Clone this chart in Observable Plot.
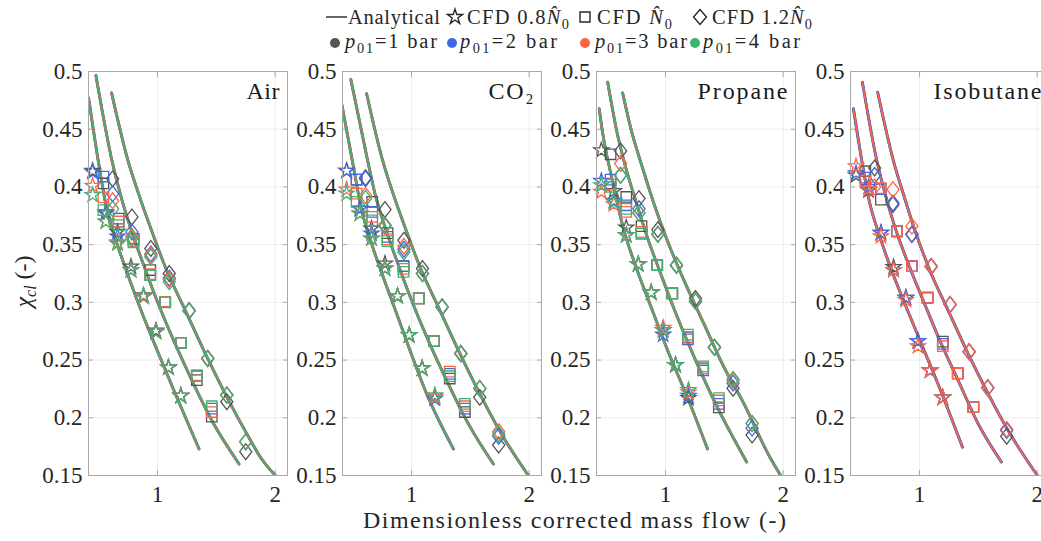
<!DOCTYPE html>
<html><head><meta charset="utf-8">
<script src="https://cdn.jsdelivr.net/npm/d3@7"></script>
<script src="https://cdn.jsdelivr.net/npm/@observablehq/plot@0.6"></script>
<style>
html,body{margin:0;padding:0;background:#fff;overflow:hidden;}
#wrap{position:relative;width:1041px;height:541px;overflow:hidden;background:#fff;font-family:"Liberation Serif","DejaVu Serif",serif;}
#wrap svg.panel{position:absolute;top:0;}
#overlay{position:absolute;left:0;top:0;pointer-events:none;}
#wrap text{font-family:"Liberation Serif","DejaVu Serif",serif;}
</style></head><body><div id="wrap"></div>
<script>
// ---------------- DATA ----------------
const gasNames = ["Air", "CO₂", "Propane", "Isobutane"];
const speedLabels = ["0.8", "1.0", "1.2"];
const pressureLabels = ["1 bar", "2 bar", "3 bar", "4 bar"];
const pressureColors = ["#555555", "#4169e1", "#ff6347", "#3cb371"];
const xTicks = [1, 2];
const yTicks = [0.15, 0.2, 0.25, 0.3, 0.35, 0.4, 0.45, 0.5];

// Analytical curves [x, y]
const airLine08 = [[0.414,0.477],[0.5,0.42],[0.57,0.38],[0.655,0.351],[0.754,0.322],[0.881,0.2875],[1.008,0.2557],[1.15,0.221],[1.353,0.173]];
const airLine10 = [[0.476,0.4965],[0.612,0.423],[0.683,0.394],[0.768,0.3654],[0.867,0.3365],[0.994,0.3019],[1.136,0.2673],[1.291,0.2327],[1.475,0.1952],[1.693,0.160]];
const airLine12 = [[0.609,0.4815],[0.748,0.423],[0.839,0.394],[0.938,0.3654],[1.065,0.3308],[1.235,0.2933],[1.419,0.2529],[1.603,0.2153],[1.773,0.1836],[1.872,0.1663],[2.02,0.148]];
const co2Line08 = [[0.406,0.472],[0.496,0.423],[0.576,0.3798],[0.660,0.351],[0.759,0.322],[0.873,0.2904],[0.986,0.2586],[1.127,0.2211],[1.356,0.173]];
const co2Line10 = [[0.484,0.493],[0.6265,0.423],[0.689,0.3942],[0.774,0.3654],[0.873,0.3365],[1.0,0.3019],[1.141,0.2673],[1.297,0.2327],[1.481,0.1952],[1.696,0.160]];
const co2Line12 = [[0.618,0.4807],[0.754,0.423],[0.844,0.394],[0.943,0.3654],[1.071,0.3308],[1.24,0.2933],[1.424,0.2529],[1.608,0.2153],[1.778,0.1836],[1.993,0.15]];
const propLine08 = [[0.436,0.4677],[0.462,0.449],[0.547,0.4058],[0.646,0.3625],[0.759,0.3279],[0.887,0.2933],[1.028,0.2558],[1.184,0.2182],[1.357,0.173]];
const propLine10 = [[0.508,0.4908],[0.584,0.449],[0.66,0.4173],[0.745,0.3885],[0.844,0.3567],[0.958,0.325],[1.099,0.2875],[1.255,0.25],[1.424,0.2125],[1.69,0.1617]];
const propLine12 = [[0.635,0.4815],[0.709,0.449],[0.802,0.4173],[0.901,0.3856],[1.014,0.3538],[1.156,0.3192],[1.325,0.2817],[1.495,0.2442],[1.665,0.2125],[1.877,0.1678],[1.979,0.15]];
const isoLine08 = [[0.438,0.4677],[0.51,0.4222],[0.573,0.3876],[0.666,0.3559],[0.765,0.327],[0.878,0.2982],[1.006,0.2664],[1.147,0.2318],[1.365,0.1745]];
const isoLine10 = [[0.514,0.4908],[0.638,0.4222],[0.709,0.3934],[0.793,0.3645],[0.907,0.3328],[1.034,0.301],[1.175,0.2664],[1.331,0.2318],[1.501,0.1943],[1.696,0.1617]];
const isoLine12 = [[0.644,0.482],[0.779,0.4222],[0.864,0.3934],[0.963,0.3616],[1.091,0.327],[1.246,0.2924],[1.416,0.2549],[1.586,0.2203],[1.756,0.1885],[2.002,0.15]];

// CFD points: x positions, and y per inlet pressure (1, 2, 3, 4 bar)
const airStarX = [0.448, 0.561, 0.660, 0.774, 0.881, 0.986, 1.093, 1.198];
const airStarY = [
  [0.414, 0.378, 0.361, 0.331, 0.306, 0.2755, 0.2436, 0.219],
  [0.413, 0.377, 0.357, 0.328, 0.305, 0.2745, 0.2436, 0.219],
  [0.401, 0.370, 0.352, 0.328, 0.305, 0.2745, 0.2436, 0.219],
  [0.393, 0.370, 0.351, 0.328, 0.3057, 0.2745, 0.2436, 0.219]];
const airSquareX = [0.54, 0.669, 0.796, 0.938, 1.065, 1.20, 1.334, 1.461];
const airSquareY = [
  [0.403, 0.3726, 0.355, 0.328, 0.3005, 0.265, 0.2326, 0.201],
  [0.409, 0.370, 0.355, 0.3235, 0.3005, 0.265, 0.236, 0.208],
  [0.391, 0.370, 0.353, 0.3245, 0.3005, 0.265, 0.237, 0.205],
  [0.380, 0.367, 0.352, 0.3235, 0.300, 0.265, 0.236, 0.210]];
const airDiamondX = [0.618, 0.782, 0.943, 1.10, 1.269, 1.427, 1.589, 1.75];
const airDiamondY = [
  [0.407, 0.374, 0.3466, 0.325, 0.2927, 0.2514, 0.2139, 0.1706],
  [0.394, 0.361, 0.342, 0.321, 0.2927, 0.2514, 0.2197, 0.1793],
  [0.388, 0.357, 0.341, 0.320, 0.2927, 0.2514, 0.2197, 0.1793],
  [0.381, 0.3553, 0.3394, 0.3178, 0.2927, 0.2514, 0.2197, 0.1793]];

const co2StarX = [0.448, 0.561, 0.660, 0.774, 0.881, 0.980, 1.09, 1.198];
const co2StarY = [
  [0.414, 0.381, 0.364, 0.3336, 0.3054, 0.2716, 0.2428, 0.2182],
  [0.414, 0.3812, 0.3596, 0.3293, 0.3054, 0.2716, 0.2428, 0.2165],
  [0.3977, 0.3769, 0.3553, 0.3293, 0.3054, 0.2716, 0.2428, 0.218],
  [0.3942, 0.3769, 0.3553, 0.3293, 0.3054, 0.2716, 0.2428, 0.2195]];
const co2SquareX = [0.533, 0.666, 0.796, 0.932, 1.062, 1.192, 1.325, 1.453];
const co2SquareY = [
  [0.4063, 0.387, 0.360, 0.3313, 0.3034, 0.2664, 0.234, 0.205],
  [0.4063, 0.3784, 0.3567, 0.3313, 0.3034, 0.2664, 0.238, 0.208],
  [0.3942, 0.374, 0.3545, 0.329, 0.3034, 0.2664, 0.24, 0.21],
  [0.387, 0.371, 0.353, 0.3264, 0.3034, 0.2664, 0.236, 0.212]];
const co2DiamondX = [0.609, 0.774, 0.935, 1.093, 1.26, 1.419, 1.58, 1.741];
const co2DiamondY = [
  [0.408, 0.3804, 0.3538, 0.3293, 0.296, 0.2557, 0.2177, 0.1764],
  [0.407, 0.3668, 0.346, 0.325, 0.296, 0.2557, 0.2254, 0.184],
  [0.3926, 0.366, 0.3486, 0.325, 0.296, 0.2557, 0.2254, 0.188],
  [0.390, 0.3668, 0.3437, 0.325, 0.296, 0.2557, 0.2254, 0.186]];

const propStarX = [0.454, 0.561, 0.666, 0.768, 0.878, 0.980, 1.085, 1.195];
const propStarY = [
  [0.4317, 0.3965, 0.3648, 0.333, 0.3085, 0.2759, 0.2457, 0.217],
  [0.4052, 0.388, 0.3582, 0.333, 0.3085, 0.272, 0.2457, 0.219],
  [0.3957, 0.385, 0.3582, 0.333, 0.3085, 0.278, 0.2457, 0.222],
  [0.4014, 0.387, 0.3582, 0.333, 0.3085, 0.276, 0.2457, 0.224]];
const propSquareX = [0.533, 0.666, 0.796, 0.929, 1.057, 1.19, 1.32, 1.453];
const propSquareY = [
  [0.4283, 0.3913, 0.366, 0.3322, 0.3077, 0.2696, 0.2428, 0.209],
  [0.4063, 0.3841, 0.3596, 0.3322, 0.3077, 0.268, 0.241, 0.212],
  [0.402, 0.3784, 0.361, 0.3322, 0.3077, 0.270, 0.2428, 0.215],
  [0.400, 0.381, 0.3596, 0.3322, 0.3077, 0.272, 0.2445, 0.217]];
const propDiamondX = [0.618, 0.774, 0.935, 1.093, 1.255, 1.416, 1.574, 1.736];
const propDiamondY = [
  [0.4312, 0.3899, 0.363, 0.3322, 0.3034, 0.261, 0.2255, 0.185],
  [0.41, 0.3812, 0.359, 0.3322, 0.301, 0.261, 0.230, 0.191],
  [0.4202, 0.3775, 0.359, 0.3322, 0.301, 0.261, 0.232, 0.195],
  [0.4101, 0.3775, 0.359, 0.3322, 0.301, 0.261, 0.2333, 0.195]];

const isoStarX = [0.46, 0.567, 0.672, 0.779, 0.884, 0.986, 1.09, 1.198];
const isoStarY = [
  [0.410, 0.397, 0.3602, 0.3305, 0.304, 0.2664, 0.241, 0.2174],
  [0.412, 0.400, 0.3602, 0.328, 0.304, 0.2664, 0.241, 0.2174],
  [0.4179, 0.398, 0.3573, 0.328, 0.302, 0.262, 0.241, 0.2174]];
const isoSquareX = [0.539, 0.672, 0.808, 0.935, 1.068, 1.198, 1.325, 1.458];
const isoSquareY = [
  [0.4136, 0.389, 0.3616, 0.3313, 0.304, 0.266, 0.2384, 0.2093],
  [0.408, 0.398, 0.3616, 0.3313, 0.304, 0.264, 0.2384, 0.2093],
  [0.405, 0.399, 0.3616, 0.3313, 0.304, 0.262, 0.2384, 0.2093]];
const isoDiamondX = [0.618, 0.774, 0.935, 1.099, 1.26, 1.422, 1.58, 1.741];
const isoDiamondY = [
  [0.4164, 0.3847, 0.359, 0.331, 0.2982, 0.2572, 0.226, 0.184],
  [0.410, 0.386, 0.3587, 0.331, 0.2982, 0.2572, 0.226, 0.189],
  [0.400, 0.3977, 0.366, 0.3313, 0.2982, 0.2572, 0.226, 0.19]];

// ---------------- LAYOUT ----------------
const panelLefts = [88, 341.5, 595.5, 849.5];
const titleWidths = [33, 45, 90, 108];
const panelWidth = 199, frameTop = 71, frameBottom = 475, W = 1041, H = 541;
const mL = 70, mR = 12;
const fontFam = '"Liberation Serif", "DejaVu Serif", serif';
const textColor = "#262626", axisColor = "#a8a8a8";

const diamondSym = { draw(ctx, size) { const s = Math.sqrt(size); const h = s * 0.78, w = s * 0.6;
  ctx.moveTo(0, -h); ctx.lineTo(w, 0); ctx.lineTo(0, h); ctx.lineTo(-w, 0); ctx.closePath(); } };
const symbols = ["star", "square", diamondSym];
const symbolR = [4.7, 5.9, 5.7];

const panels = [
  {name: gasNames[0], lines: [airLine08, airLine10, airLine12], pts: [[airStarX, airStarY], [airSquareX, airSquareY], [airDiamondX, airDiamondY]], nP: 4},
  {name: gasNames[1], lines: [co2Line08, co2Line10, co2Line12], pts: [[co2StarX, co2StarY], [co2SquareX, co2SquareY], [co2DiamondX, co2DiamondY]], nP: 4},
  {name: gasNames[2], lines: [propLine08, propLine10, propLine12], pts: [[propStarX, propStarY], [propSquareX, propSquareY], [propDiamondX, propDiamondY]], nP: 4},
  {name: gasNames[3], lines: [isoLine08, isoLine10, isoLine12], pts: [[isoStarX, isoStarY], [isoSquareX, isoSquareY], [isoDiamondX, isoDiamondY]], nP: 3}
];

const wrap = document.getElementById("wrap");
const fmtY = d => String(Number(d.toFixed(2)));

panels.forEach((p, pi) => {
  const widths = p.nP === 4 ? [2.9, 2.3, 2.3, 1.7] : [2.9, 2.4, 1.7];
  const marks = [
    Plot.gridX(xTicks, {stroke: "#000", strokeOpacity: 0.07}),
    Plot.gridY(yTicks, {stroke: "#000", strokeOpacity: 0.07}),
    Plot.axisX(xTicks, {anchor: "bottom", tickSize: -5, tickPadding: 15, tickFormat: d => String(d), fontSize: 23, stroke: axisColor, fill: textColor, label: null}),
    Plot.axisX(xTicks, {anchor: "top", tickSize: -5, tickFormat: () => "", stroke: axisColor, label: null}),
    Plot.axisY(yTicks, {anchor: "left", tickSize: -5, tickPadding: 11, tickFormat: fmtY, fontSize: 23, stroke: axisColor, fill: textColor, label: null}),
    Plot.axisY(yTicks, {anchor: "right", tickSize: -5, tickFormat: () => "", stroke: axisColor, label: null})
  ];
  for (let k = 0; k < p.nP; k++) {
    p.lines.forEach(pts => marks.push(Plot.line(pts, {curve: "monotone-x", stroke: pressureColors[k], strokeWidth: widths[k], clip: true})));
  }
  for (let k = 0; k < p.nP; k++) {
    p.pts.forEach(([xs, ysAll], s) => {
      const rows = xs.map((x, i) => ({x, y: ysAll[k][i]})).filter(d => d.y != null);
      marks.push(Plot.dot(rows, {x: "x", y: "y", symbol: symbols[s], r: symbolR[s], stroke: pressureColors[k], fill: "none", strokeWidth: 1.3}));
    });
  }
  marks.push(Plot.frame({stroke: axisColor, strokeWidth: 1}));
  marks.push(Plot.text([p.name], {text: d => d, frameAnchor: "top-right", dx: -8, dy: 10, lineAnchor: "top", textAnchor: "end", fontSize: 24, fill: "#1a1a1a", className: "ptitle"}));
  const svg = Plot.plot({
    width: mL + panelWidth + mR, height: H,
    marginLeft: mL, marginRight: mR, marginTop: frameTop, marginBottom: H - frameBottom,
    x: {domain: [0.413, 2.105]},
    y: {domain: [0.15, 0.5]},
    style: {fontFamily: fontFam, fontSize: "22px", color: textColor, background: "transparent", overflow: "visible"},
    marks
  });
  svg.classList.add("panel");
  svg.style.left = (panelLefts[pi] - mL) + "px";
  svg.querySelectorAll(".ptitle text").forEach(t => { t.setAttribute("textLength", titleWidths[pi]); t.setAttribute("lengthAdjust", "spacing"); });
  wrap.appendChild(svg);
});

// ---------------- OVERLAY: legend and axis titles ----------------
const ov = d3.select(wrap).append("svg").attr("id", "overlay").attr("width", W).attr("height", H)
  .style("font-family", fontFam).attr("fill", textColor);

function richText(sel, x, y, parts, size, targetW) {
  const t = sel.append("text").attr("x", x).attr("y", y).attr("font-size", size);
  parts.forEach(([str, opt]) => {
    const ts = t.append("tspan").text(str);
    if (opt && opt.it) ts.attr("font-style", "italic");
    if (opt && opt.sub) ts.attr("font-size", size * 0.7).attr("dy", size * 0.22);
    if (opt && opt.unsub) ts.attr("dy", -size * 0.22);
  });
  if (targetW) t.attr("textLength", targetW).attr("lengthAdjust", "spacing");
  return t;
}

// row 1
ov.append("line").attr("x1", 326).attr("x2", 347).attr("y1", 17).attr("y2", 17).attr("stroke", textColor).attr("stroke-width", 1.4);
richText(ov, 348, 24, [["Analytical"]], 20.5, 92);
ov.append("path").attr("d", d3.symbol(d3.symbolStar, 70)()).attr("transform", "translate(455,17)").attr("fill", "none").attr("stroke", textColor).attr("stroke-width", 1.4);
richText(ov, 467, 24, [["CFD " + speedLabels[0]], ["N\u0302", {it: true}], ["0", {sub: true}]], 20.5, 102);
ov.append("path").attr("d", d3.symbol(d3.symbolSquare, 100)()).attr("transform", "translate(585,17)").attr("fill", "none").attr("stroke", textColor).attr("stroke-width", 1.4);
richText(ov, 597, 24, [["CFD "], ["N\u0302", {it: true}], ["0", {sub: true}]], 20.5, 75);
ov.append("path").attr("d", "M0,-7.5L6.5,0L0,7.5L-6.5,0Z").attr("transform", "translate(700,17)").attr("fill", "none").attr("stroke", textColor).attr("stroke-width", 1.4);
richText(ov, 712, 24, [["CFD " + speedLabels[2]], ["N\u0302", {it: true}], ["0", {sub: true}]], 20.5, 100);

// row 2
const dotX = [335, 452, 585, 695], txtX = [345, 460, 595, 703], txtW = [92, 97, 92, 97];
pressureLabels.forEach((lab, k) => {
  ov.append("circle").attr("cx", dotX[k]).attr("cy", 43).attr("r", 5).attr("fill", pressureColors[k]);
  richText(ov, txtX[k], 48, [["p", {it: true}], ["01", {sub: true}], ["=" + lab, {unsub: true}]], 20.5, txtW[k]);
});

// x label
ov.append("text").attr("x", 574.5).attr("y", 528).attr("text-anchor", "middle").attr("font-size", 24)
  .attr("textLength", 423).attr("lengthAdjust", "spacing").text("Dimensionless corrected mass flow (-)");
// y label
const yl = ov.append("g").attr("transform", "translate(31,274.5) rotate(-90)");
const ylt = yl.append("text").attr("x", -33).attr("y", 0).attr("font-size", 24);
ylt.append("tspan").attr("font-style", "italic").text("χ");
ylt.append("tspan").attr("font-style", "italic").attr("font-size", 16).attr("dy", 5).text("cl");
ylt.append("tspan").attr("dy", -5).text("  (-)");
</script></body></html>
